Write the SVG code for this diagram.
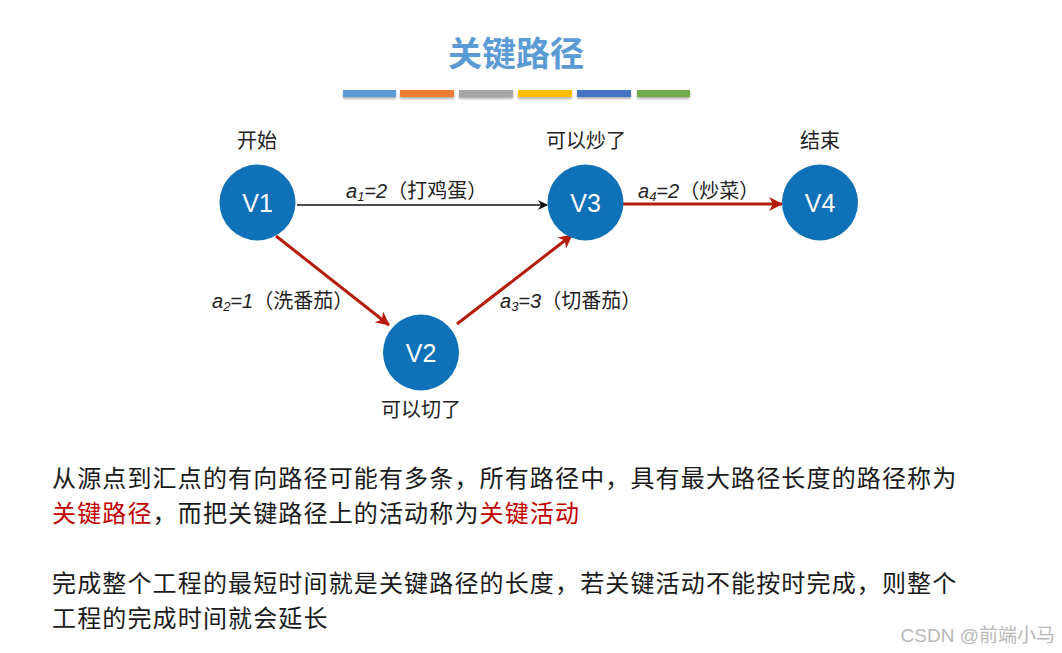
<svg xmlns="http://www.w3.org/2000/svg" width="1062" height="653" viewBox="0 0 1062 653">
<style>
.node{fill:#0f71b8}
.nt{font-family:"Liberation Sans",Arial,sans-serif;font-size:25px;fill:#fff;text-anchor:middle}
.cap{font-family:"Noto Sans CJK SC","Noto Sans",sans-serif;font-size:20px;fill:#222;text-anchor:middle}
.el{font-family:"Liberation Sans","Noto Sans CJK SC",sans-serif;font-size:20px;fill:#222}
.it{font-style:italic}
.sub{font-size:13px}
.body{font-family:"Noto Sans CJK SC","Noto Sans",sans-serif;font-size:24px;fill:#1a1a1a;letter-spacing:1.15px}
.red{fill:#c00000}
</style>
<defs>
<marker id="ab" markerWidth="10" markerHeight="10" refX="9" refY="5" orient="auto" markerUnits="userSpaceOnUse"><path d="M0,0 L10,5 L0,10 L3,5 Z" fill="#111"/></marker>
<marker id="ar" markerWidth="14" markerHeight="14" refX="13" refY="7" orient="auto" markerUnits="userSpaceOnUse"><path d="M0,0 L14,7 L0,14 L4,7 Z" fill="#b51c0a"/></marker>
<filter id="sh" x="-10%" y="-50%" width="120%" height="250%"><feDropShadow dx="0" dy="2" stdDeviation="1.2" flood-color="#000" flood-opacity="0.3"/></filter>
</defs>
<rect width="1062" height="653" fill="#fff"/>
<g id="title">
<text x="516" y="66" font-family="Noto Sans CJK SC,sans-serif" font-size="34" font-weight="bold" fill="#5b9bd5" text-anchor="middle">关键路径</text>
<g filter="url(#sh)">
<rect x="343" y="90" width="53" height="7" fill="#5b9bd5"/>
<rect x="400" y="90" width="54" height="7" fill="#ed7d31"/>
<rect x="459" y="90" width="54" height="7" fill="#a5a5a5"/>
<rect x="518" y="90" width="54" height="7" fill="#ffc000"/>
<rect x="577" y="90" width="54" height="7" fill="#4472c4"/>
<rect x="637" y="90" width="53" height="7" fill="#70ad47"/>
</g>
</g>
<g id="connectors">
<line x1="297" y1="205" x2="547" y2="205" stroke="#111" stroke-width="1.5" marker-end="url(#ab)"/>
<line x1="623" y1="204" x2="782" y2="204" stroke="#b51c0a" stroke-width="3" marker-end="url(#ar)"/>
<line x1="276" y1="236" x2="389" y2="325" stroke="#b51c0a" stroke-width="3" marker-end="url(#ar)"/>
<line x1="457" y1="324" x2="572" y2="235" stroke="#b51c0a" stroke-width="3" marker-end="url(#ar)"/>
<text class="el" x="346" y="198"><tspan class="it">a</tspan><tspan class="it sub" dy="3">1</tspan><tspan class="it" dy="-3">=2</tspan>（打鸡蛋）</text>
<text class="el" x="638" y="198"><tspan class="it">a</tspan><tspan class="it sub" dy="3">4</tspan><tspan class="it" dy="-3">=2</tspan>（炒菜）</text>
<text class="el" x="212" y="308"><tspan class="it">a</tspan><tspan class="it sub" dy="3">2</tspan><tspan class="it" dy="-3">=1</tspan>（洗番茄）</text>
<text class="el" x="500" y="308"><tspan class="it">a</tspan><tspan class="it sub" dy="3">3</tspan><tspan class="it" dy="-3">=3</tspan>（切番茄）</text>
</g>
<g id="V1"><circle class="node" cx="257.5" cy="202.5" r="38"/><text class="nt" x="257.5" y="211.5">V1</text><text class="cap" x="257" y="148">开始</text></g>
<g id="V3"><circle class="node" cx="585.5" cy="202.5" r="38"/><text class="nt" x="585.5" y="211.5">V3</text><text class="cap" x="586" y="148">可以炒了</text></g>
<g id="V4"><circle class="node" cx="820" cy="202.5" r="38"/><text class="nt" x="820" y="211.5">V4</text><text class="cap" x="820" y="148">结束</text></g>
<g id="V2"><circle class="node" cx="421" cy="352.5" r="38"/><text class="nt" x="421" y="361.5">V2</text><text class="cap" x="421" y="417">可以切了</text></g>
<g id="body">
<text class="body" x="52" y="487">从源点到汇点的有向路径可能有多条，所有路径中，具有最大路径长度的路径称为</text>
<text class="body" x="52" y="522"><tspan class="red">关键路径</tspan>，而把关键路径上的活动称为<tspan class="red">关键活动</tspan></text>
<text class="body" x="52" y="592">完成整个工程的最短时间就是关键路径的长度，若关键活动不能按时完成，则整个</text>
<text class="body" x="52" y="627">工程的完成时间就会延长</text>
</g>
<text x="1055" y="642" font-family="Liberation Sans,Noto Sans CJK SC,sans-serif" font-size="19" fill="#b8b8b8" text-anchor="end">CSDN @前端小马</text>
</svg>
